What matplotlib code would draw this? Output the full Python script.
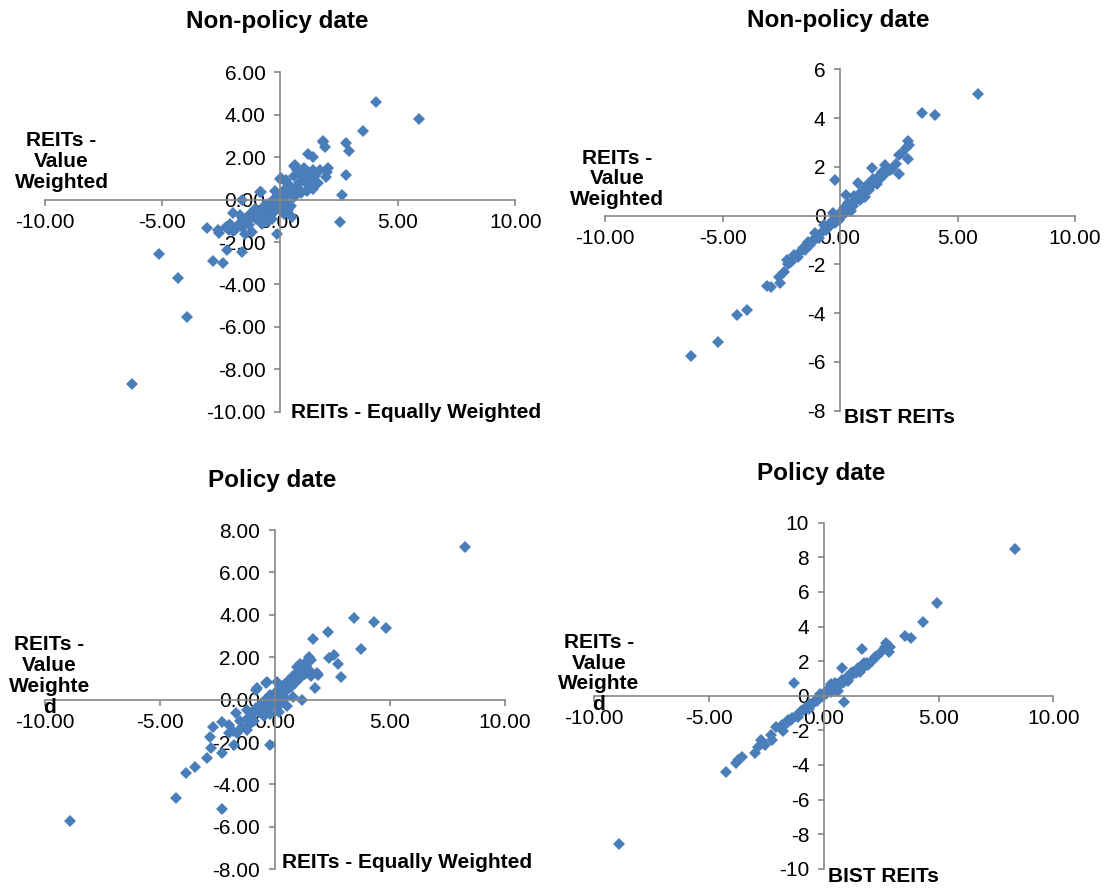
import numpy as np
import matplotlib
matplotlib.use("Agg")
import matplotlib.pyplot as plt
from matplotlib.ticker import FormatStrFormatter

plt.rcParams['font.family'] = ['Liberation Sans', 'DejaVu Sans']

W, H = 1117, 888
BLUE = '#4A7EBB'
GREY = '#868686'

# ---- data ----
# top left: Non-policy date, REITs - Equally Weighted vs REITs - Value Weighted
np_eq_x = [4.07, 5.89, 3.51, 1.82, 1.91, 2.82, 2.93, 2.82, 2.63, 2.55, 1.18, 1.41,
           -3.10, -5.14, -4.32, -3.93, -6.27, -2.84, -2.43, -1.61, -2.25, -0.11,
           -2.61, -2.15, -1.62, -0.79, 2.02, 1.97, 1.34, 0.58, 0.73, 0.88, 0.27, 0.05,
           -2.62, -2.12, -1.91, -1.56, -1.27, -0.85, -0.64, -0.42, 0.0, 0.42, 0.64,
           1.20, 1.42, 1.98, 1.84,
           -2.3, -2.0, -1.8, -1.6, -1.4, -1.3, -1.1, -1.0, -0.9, -0.8, -0.7, -0.6,
           -0.5, -0.4, -0.3, -0.25, -0.2, -0.1, -0.05, 0.0, 0.1, 0.1, 0.2, 0.2, 0.3,
           0.35, 0.4, 0.5, 0.5, 0.6, 0.6, 0.7, 0.8, 0.8, 0.9, 1.0, 1.0, 1.1, 1.2,
           1.3, 1.4, 1.5, 1.6, 1.7, -0.5, -1.5, 0.3, 0.45, -0.2, -2.0, -1.7, -1.2,
           -0.35, 0.15, 0.65, 1.15, -0.75, -1.05]
np_vw_y = [4.58, 3.81, 3.25, 2.77, 2.47, 2.66, 2.31, 1.16, 0.22, -1.07, 2.15, 2.03,
           -1.35, -2.56, -3.71, -5.55, -8.69, -2.89, -3.00, -2.48, -2.37, -1.64,
           -1.59, -1.43, -0.02, 0.38, 1.48, 1.05, 0.64, 1.59, 1.40, 0.33, 0.93, 1.00,
           -1.45, -1.13, -1.45, -0.90, -0.66, 0.36, -0.27, -0.50, 0.99, 0.60, 1.62,
           0.68, 0.52, 1.31, 2.72,
           -1.3, -1.5, -1.2, -1.3, -1.0, -1.2, -0.8, -0.9, -0.6, -0.8, -0.4, -0.6,
           -0.2, -0.3, 0.0, -0.6, -0.2, 0.2, -0.4, 0.0, 0.3, -0.3, 0.5, -0.1, 0.2,
           -0.5, 0.7, 0.3, -0.8, 1.1, 0.1, 0.5, 1.3, 0.8, 0.4, 1.0, 1.5, 0.9, 1.3,
           1.0, 1.4, 1.1, 0.8, 1.4, -1.0, -1.6, 0.8, -0.3, 0.4, -0.65, -0.75, -1.55,
           -0.9, -0.7, 0.25, 0.4, -1.15, -0.45]

# top right: Non-policy date, BIST REITs vs REITs - Value Weighted
np_bist_x = [5.87, 3.48, 4.04, 2.87, 2.95, 2.80, 2.65, 2.90, 2.49, 1.89, 1.36, -0.23,
             -6.35, -5.19, -4.38, -3.98, -3.13, -2.92, -2.54, -2.27, -1.97, -1.59,
             -1.36, -1.06, -0.68, -0.30, 0.23, 0.76, 1.06, 1.66, 2.12,
             -2.1, -1.8, -1.7, -1.5, -1.3, -1.2, -1.0, -0.9, -0.8, -0.6, -0.5, -0.4,
             -0.3, -0.2, -0.1, 0.0, 0.1, 0.15, 0.3, 0.35, 0.5, 0.55, 0.6, 0.7, 0.8,
             0.9, 1.0, 1.1, 1.2, 1.3, 1.4, 1.5, 1.6, 1.7, 1.8, 1.9, 2.0, 2.2, 2.4,
             2.5, -2.6, -2.4, -2.2, 0.25, -0.05, 0.45, 1.25, 1.55, 0.85, -1.15]
np_bist_y = [4.98, 4.22, 4.13, 3.04, 2.90, 2.76, 2.56, 2.31, 1.71, 2.08, 1.94, 1.46,
             -5.76, -5.17, -4.07, -3.87, -2.87, -2.94, -2.78, -1.82, -1.61, -1.34,
             -1.07, -0.72, -0.38, 0.10, 0.85, 1.33, 0.78, 1.60, 1.87,
             -1.9, -1.7, -1.5, -1.4, -1.2, -1.1, -0.9, -0.9, -0.7, -0.6, -0.4, -0.4,
             -0.2, -0.3, 0.0, 0.1, 0.0, 0.3, 0.3, 0.5, 0.5, 0.4, 0.8, 0.7, 0.9,
             0.8, 1.1, 1.0, 1.3, 1.2, 1.5, 1.4, 1.6, 1.5, 1.8, 1.7, 1.9, 1.9, 2.1,
             2.5, -2.5, -2.3, -2.0, 0.15, -0.2, 0.2, 1.05, 1.3, 0.65, -1.0]

# bottom left: Policy date, REITs - Equally Weighted vs REITs - Value Weighted
p_eq_x = [8.26, -8.90, 3.45, 4.30, 4.84, 3.76, 2.33, 1.66, 2.59, 2.36, 2.75, 2.90,
          1.74, 1.20, 1.89, 1.58, -4.27, -2.30, -3.85, -3.46, -2.95, -2.76, -2.30,
          -2.80, -2.69, -2.27, -0.20, -1.75, -1.99, -1.21, -0.82, -0.36, 0.11, 0.81,
          -1.68, 1.84, 1.48, 0.97, -1.64, -1.20, -0.77, -0.33,
          -2.0, -1.8, -1.5, -1.4, -1.2, -1.0, -0.9, -0.8, -0.7, -0.6, -0.5, -0.4,
          -0.3, -0.2, -0.1, 0.0, 0.05, 0.1, 0.2, 0.25, 0.3, 0.4, 0.45, 0.5, 0.6,
          0.7, 0.8, 0.9, 1.0, 1.1, 1.2, 1.3, 1.4, 1.5, 1.6, 1.1, 0.2, -0.2, 0.55,
          -1.1, -0.45, 0.35, 0.75, 1.35]
p_vw_y = [7.19, -5.72, 3.84, 3.68, 3.36, 2.39, 3.18, 2.85, 2.11, 1.95, 1.68, 1.08,
          0.57, -0.02, 1.16, 1.87, -4.62, -5.16, -3.47, -3.16, -2.77, -2.30, -2.53,
          -1.78, -1.27, -1.04, -2.14, -2.14, -1.59, -1.43, 0.46, 0.77, 0.85, 0.14,
          -0.64, 1.24, 2.03, 1.56, -1.59, -0.49, 0.53, 0.85,
          -1.2, -1.5, -1.0, -1.3, -0.9, -0.7, -1.0, -0.4, -0.6, -0.2, -0.5, 0.0,
          -0.3, 0.2, -0.1, 0.3, -0.4, 0.1, 0.5, -0.2, 0.3, 0.7, 0.1, 0.4, 0.9,
          0.6, 1.1, 0.8, 1.3, 1.0, 1.5, 1.2, 1.8, 1.4, 1.1, 1.7, -0.6, -0.7, -0.3,
          -1.2, -0.75, 0.05, 0.95, 1.6]

# bottom right: Policy date, BIST REITs vs REITs - Value Weighted
p_bist_x = [8.33, -8.93, 4.92, 4.33, 3.53, 3.81, 2.72, 2.88, 1.68, 0.80, -1.28, 0.88,
            -4.25, -3.80, -3.56, -2.88, -2.72, -2.24, -2.08, -1.76, -1.44, 2.24,
            1.76, 1.60, 1.28, 0.48, 0.16, -0.48, -0.88, -1.12, 2.67, 1.94, 2.82,
            -2.55, -2.99, -1.54, -3.72,
            -1.0, -0.8, -0.7, -0.6, -0.5, -0.4, -0.3, -0.2, -0.1, 0.0, 0.1, 0.2,
            0.3, 0.4, 0.5, 0.6, 0.7, 0.8, 0.9, 1.0, 1.1, 1.2, 1.4, 1.5, 1.7, 1.9,
            2.1, 2.3, 2.5, -1.2, -1.4, -1.6, -1.8, 0.3, 0.6, -0.15, 1.05, 0.55,
            -0.65, -2.3]
p_bist_y = [8.46, -8.57, 5.38, 4.24, 3.45, 3.31, 3.03, 2.83, 2.68, 1.58, 0.71, -0.35,
            -4.39, -3.91, -3.56, -2.95, -2.56, -2.56, -1.79, -2.02, -1.41, 2.25,
            1.87, 1.39, 1.39, 0.71, 0.33, -0.44, -0.83, -1.21, 2.83, 1.77, 2.54,
            -2.85, -3.33, -1.41, -3.72,
            -0.9, -0.7, -0.7, -0.5, -0.5, -0.3, -0.3, -0.1, -0.1, 0.1, 0.1, 0.3,
            0.2, 0.5, 0.4, 0.7, 0.6, 0.9, 0.8, 1.1, 1.0, 1.3, 1.3, 1.6, 1.6, 1.9,
            2.0, 2.3, 2.5, -1.2, -1.3, -1.6, -1.7, 0.7, 0.3, 0.1, 0.85, 0.35,
            -0.75, -2.25]

x_ticks = [-10, -5, 0, 5, 10]


def px(left, top, right, bottom):
    # pixel box -> figure fraction rect
    return [left / W, 1 - bottom / H, (right - left) / W, (bottom - top) / H]


def quad(fig, rect, x, y, ylim, yfmt):
    ax = fig.add_axes(rect)
    ax.plot(x, y, linestyle='none', marker='D', ms=6.2, mew=0, color=BLUE)
    ax.set_xlim(-10, 10)
    ax.set_ylim(ylim)
    ax.set_xticks(x_ticks)
    ax.set_yticks(np.arange(ylim[0], ylim[1] + 1, 2))
    ax.xaxis.set_major_formatter(FormatStrFormatter('%.2f'))
    ax.yaxis.set_major_formatter(FormatStrFormatter(yfmt))
    for s in ['top', 'right']:
        ax.spines[s].set_visible(False)
    for s in ['left', 'bottom']:
        ax.spines[s].set_position(('data', 0))
        ax.spines[s].set_color(GREY)
        ax.spines[s].set_linewidth(1.2)
    ax.tick_params(axis='both', direction='out', length=4.5, width=1.2,
                   color=GREY, labelsize=15, labelcolor='black')
    ax.tick_params(axis='x', pad=5)
    ax.tick_params(axis='y', pad=6)
    ax.patch.set_alpha(0)
    return ax


def txt(fig, x, y, s, **kw):
    fig.text(x / W, 1 - y / H, s, **kw)


fig = plt.figure(figsize=(W / 100, H / 100), dpi=100)

quad(fig, px(44.6, 72.3, 515.4, 411.7), np_eq_x, np_vw_y, (-10, 6), '%.2f')
quad(fig, px(605.1, 69.3, 1075.1, 410.7), np_bist_x, np_bist_y, (-8, 6), '%d')
quad(fig, px(44.6, 530.0, 504.6, 869.3), p_eq_x, p_vw_y, (-8, 8), '%.2f')
quad(fig, px(594.1, 522.7, 1053.4, 868.7), p_bist_x, p_bist_y, (-10, 10), '%d')

tkw = dict(fontsize=17.5, fontweight='bold', ha='center', va='baseline')
txt(fig, 277.7, 28.3, 'Non-policy date', **tkw)
txt(fig, 838.7, 26.7, 'Non-policy date', **tkw)
txt(fig, 271.7, 486.7, 'Policy date', **tkw)
txt(fig, 820.8, 480.0, 'Policy date', **tkw)

akw = dict(fontsize=15, fontweight='bold', ha='left', va='baseline')
txt(fig, 291, 418.3, 'REITs - Equally Weighted', **akw)
txt(fig, 844, 423.3, 'BIST REITs', **akw)
txt(fig, 282, 868.3, 'REITs - Equally Weighted', **akw)
txt(fig, 827.8, 881.7, 'BIST REITs', **akw)

# the wrapped "Weighte / d" overlaps the -10.00 tick label in the original too
ykw = dict(fontsize=15, fontweight='bold', ha='center', va='center',
           multialignment='center', linespacing=1.13)
txt(fig, 61.6, 161.6, 'REITs -\nValue\nWeighted', **ykw)
txt(fig, 616.8, 179.0, 'REITs -\nValue\nWeighted', **ykw)
txt(fig, 49.5, 675.8, 'REITs -\nValue\nWeighte\nd', **ykw)
txt(fig, 598.9, 673.5, 'REITs -\nValue\nWeighte\nd', **ykw)

fig.savefig('out.png', dpi=100)
